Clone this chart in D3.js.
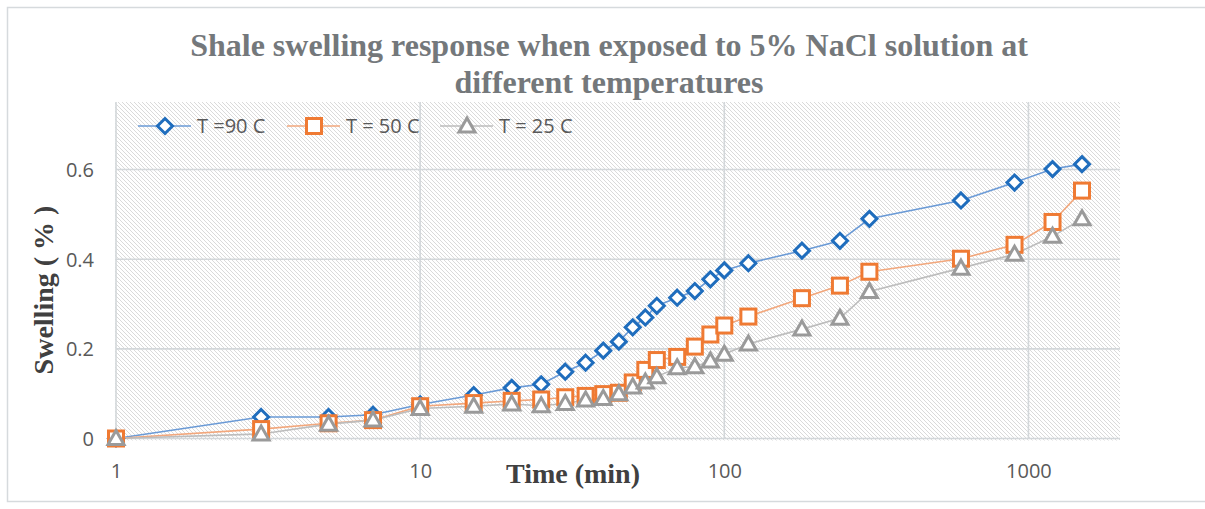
<!DOCTYPE html>
<html>
<head>
<meta charset="utf-8">
<script src="https://cdn.jsdelivr.net/npm/d3@7"></script>
<style>
  html, body { margin: 0; padding: 0; background: #fff; }
  svg { display: block; }
</style>
</head>
<body>
<svg id="chart" width="1205" height="509"></svg>
<script>
/* 데이터 — 시간(분), 각 온도별 팽윤율(%) */
const times = [1, 3, 5, 7, 10, 15, 20, 25, 30, 35, 40, 45, 50, 55, 60, 70, 80, 90, 100, 120, 180, 240, 300, 600, 900, 1200, 1500];
const t90 = [0, 0.048, 0.048, 0.053, 0.076, 0.097, 0.113, 0.121, 0.149, 0.169, 0.196, 0.216, 0.248, 0.27, 0.296, 0.314, 0.329, 0.355, 0.375, 0.391, 0.419, 0.441, 0.49, 0.531, 0.571, 0.601, 0.612];
const t50 = [0, 0.021, 0.034, 0.041, 0.072, 0.079, 0.084, 0.087, 0.092, 0.095, 0.099, 0.102, 0.125, 0.153, 0.175, 0.182, 0.205, 0.232, 0.252, 0.272, 0.313, 0.341, 0.372, 0.401, 0.432, 0.483, 0.553];
const t25 = [0, 0.01, 0.032, 0.041, 0.067, 0.072, 0.077, 0.073, 0.078, 0.086, 0.089, 0.1, 0.115, 0.126, 0.138, 0.158, 0.16, 0.173, 0.188, 0.211, 0.244, 0.268, 0.328, 0.38, 0.411, 0.451, 0.49];
const seriesNames = ["T =90 C", "T = 50 C", "T = 25 C"];
const xTicks = [1, 10, 100, 1000];
const yTicks = [0, 0.2, 0.4, 0.6];

const svg = d3.select("#chart");
const W = 1205, H = 509;
const plot = { l: 116, r: 1120, t: 102, b: 438.5 };

const x = d3.scaleLog().domain([1, 2000]).range([plot.l, plot.r]);
const y = d3.scaleLinear().domain([0, 0.75]).range([plot.b, plot.b - 0.75 * 448.3]);

/* 바깥 테두리 */
svg.append("rect").attr("x", 7.5).attr("y", 7.5).attr("width", W).attr("height", 494)
  .attr("fill", "#fff").attr("stroke", "#d6dadd").attr("stroke-width", 1.5);

/* 빗금 패턴 배경 */
const defs = svg.append("defs");
const pat = defs.append("pattern").attr("id", "hatch").attr("patternUnits", "userSpaceOnUse")
  .attr("width", 4).attr("height", 4);
pat.append("rect").attr("width", 4).attr("height", 4).attr("fill", "#fff");
pat.append("path").attr("d", "M-1,-1 L5,5 M-1,3 L1,5 M3,-1 L5,1")
  .attr("stroke", "#dadada").attr("stroke-width", 1);

svg.append("rect").attr("x", plot.l - 1).attr("y", plot.t)
  .attr("width", plot.r - plot.l + 1).attr("height", plot.b - plot.t + 2)
  .attr("fill", "url(#hatch)");

/* 격자 */
const grid = svg.append("g").attr("stroke", "#d3d7da").attr("stroke-width", 1.6);
grid.selectAll("line.h").data(yTicks).join("line")
  .attr("x1", plot.l).attr("x2", plot.r).attr("y1", (d) => y(d)).attr("y2", (d) => y(d));
grid.selectAll("line.v").data(xTicks).join("line")
  .attr("y1", plot.t).attr("y2", plot.b).attr("x1", (d) => x(d)).attr("x2", (d) => x(d));

/* 축 눈금 라벨 */
const tickFont = "'Open Sans', sans-serif";
const yAxis = d3.axisLeft(y).tickValues(yTicks).tickSize(0).tickPadding(0).tickFormat(d3.format("~g"));
svg.append("g").attr("transform", `translate(${plot.l - 22},0)`).call(yAxis)
  .call((g) => g.select(".domain").remove())
  .selectAll("text").attr("font-family", tickFont).attr("font-size", 20).attr("fill", "#595959")
  .attr("dy", "0.35em");

const xAxis = d3.axisBottom(x).tickValues(xTicks).tickSize(0).tickPadding(0).tickFormat(d3.format("d"));
svg.append("g").attr("transform", `translate(0,${plot.b + 25})`).call(xAxis)
  .call((g) => g.select(".domain").remove())
  .selectAll("text").attr("font-family", tickFont).attr("font-size", 20).attr("fill", "#595959");

/* 시리즈 */
const series = [
  { name: seriesNames[0], vals: t90, line: "#6a9ad6", mark: "#1f6dbd", sym: "diamond" },
  { name: seriesNames[1], vals: t50, line: "#f2a77c", mark: "#ef7a33", sym: "square" },
  { name: seriesNames[2], vals: t25, line: "#bdbdbd", mark: "#9a9a9a", sym: "triangle" },
];

function marker(g, sym, color) {
  if (sym === "diamond") {
    g.append("path").attr("d", "M0,-7.5 L7.5,0 L0,7.5 L-7.5,0 Z");
  } else if (sym === "square") {
    g.append("rect").attr("x", -7.5).attr("y", -7.5).attr("width", 15).attr("height", 15);
  } else {
    g.append("path").attr("d", "M0,-8 L8,6 L-8,6 Z");
  }
  g.selectAll("*").attr("fill", "#fff").attr("stroke", color).attr("stroke-width", 3)
    .attr("stroke-linejoin", "miter");
}

const line = d3.line().x((d) => x(d[0])).y((d) => y(d[1]));
series.forEach((s) => {
  const pts = times.map((t, i) => [t, s.vals[i]]);
  svg.append("path").datum(pts).attr("d", line)
    .attr("fill", "none").attr("stroke", s.line).attr("stroke-width", 1.6);
});
series.forEach((s) => {
  const pts = times.map((t, i) => [t, s.vals[i]]);
  svg.append("g").selectAll("g").data(pts).join("g")
    .attr("transform", (d) => `translate(${x(d[0])},${y(d[1])})`)
    .each(function () { marker(d3.select(this), s.sym, s.mark); });
});

/* 범례 */
const legendX = [138, 287, 440];
const leg = svg.append("g").attr("transform", "translate(0,126)");
series.forEach((s, i) => {
  const g = leg.append("g").attr("transform", `translate(${legendX[i]},0)`);
  g.append("line").attr("x1", 0).attr("x2", 53).attr("stroke", s.line).attr("stroke-width", 1.6);
  marker(g.append("g").attr("transform", "translate(27,0)"), s.sym, s.mark);
  g.append("text").attr("x", 59).attr("dy", "0.35em").text(s.name)
    .attr("font-family", tickFont).attr("font-size", 20).attr("fill", "#595959");
});

/* 제목 */
const serif = "'Liberation Serif', 'Times New Roman', serif";
const title = svg.append("text").attr("text-anchor", "middle").attr("font-family", serif)
  .attr("font-weight", "bold").attr("font-size", 32).attr("fill", "#74787b");
title.append("tspan").attr("x", 609).attr("y", 56).text("Shale swelling response when exposed to 5% NaCl solution at");
title.append("tspan").attr("x", 609).attr("y", 93).text("different temperatures");

/* 축 제목 */
svg.append("text").attr("x", 573).attr("y", 483).attr("text-anchor", "middle")
  .attr("font-family", serif).attr("font-weight", "bold").attr("font-size", 28).attr("fill", "#404040")
  .text("Time (min)");
svg.append("text").attr("transform", "translate(53,290) rotate(-90)").attr("text-anchor", "middle")
  .attr("font-family", serif).attr("font-weight", "bold").attr("font-size", 28).attr("fill", "#404040")
  .text("Swelling ( % )");
</script>
</body>
</html>
